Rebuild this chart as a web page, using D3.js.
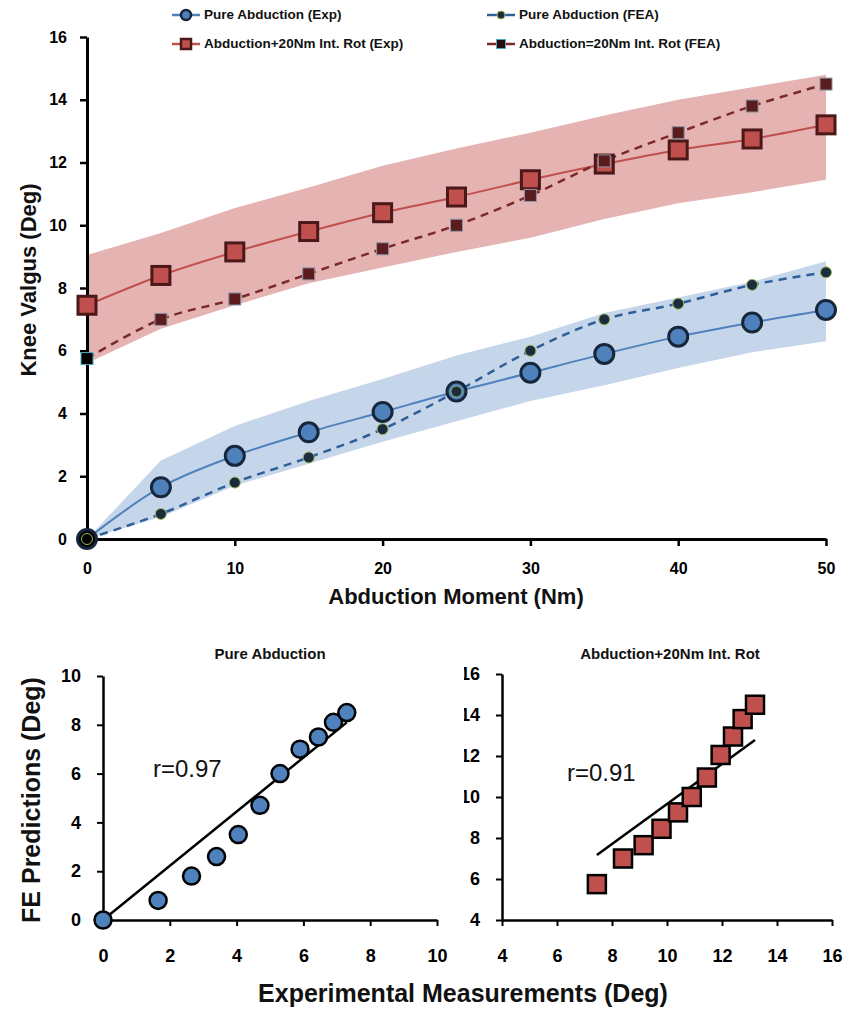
<!DOCTYPE html>
<html>
<head>
<meta charset="utf-8">
<script src="https://cdn.jsdelivr.net/npm/d3@7"></script>
<style>
  body { margin: 0; background: #fff; }
  text { font-family: "Liberation Sans", Arial, sans-serif; }
</style>
</head>
<body>
<script>
// abduction moment (Nm)
const moment = [0, 5, 10, 15, 20, 25, 30, 35, 40, 45, 50];

// knee valgus (deg)
const pureExp = [0, 1.65, 2.65, 3.4, 4.05, 4.7, 5.3, 5.9, 6.45, 6.9, 7.3];
const pureFea = [0, 0.8, 1.8, 2.6, 3.5, 4.7, 6.0, 7.0, 7.5, 8.1, 8.5];
const pureHi = [0, 2.5, 3.6, 4.4, 5.1, 5.85, 6.45, 7.2, 7.7, 8.2, 8.85];
const pureLo = [0, 0.7, 1.7, 2.4, 3.1, 3.75, 4.4, 4.9, 5.45, 5.95, 6.3];

const rotExp = [7.45, 8.4, 9.15, 9.8, 10.4, 10.9, 11.45, 11.95, 12.4, 12.75, 13.2];
const rotFea = [5.75, 7.0, 7.65, 8.45, 9.25, 10.0, 10.95, 12.05, 12.95, 13.8, 14.5];
const rotHi = [9.05, 9.75, 10.55, 11.2, 11.9, 12.45, 12.95, 13.5, 14.0, 14.4, 14.8];
const rotLo = [5.6, 6.7, 7.45, 8.15, 8.65, 9.15, 9.6, 10.2, 10.7, 11.05, 11.45];

const topTicksX = [0, 10, 20, 30, 40, 50];
const topTicksY = [0, 2, 4, 6, 8, 10, 12, 14, 16];
const pureTicks = [0, 2, 4, 6, 8, 10];
const rotTicks = [4, 6, 8, 10, 12, 14, 16];

// trend lines
const fitPure = [[0, 0], [7.3, 8.1]];
const fitRot = [[7.45, 7.17], [13.2, 12.78]];

const legendItems = [
  "Pure Abduction (Exp)", "Pure Abduction (FEA)",
  "Abduction+20Nm Int. Rot (Exp)", "Abduction=20Nm Int. Rot (FEA)"
];

const W = 849, H = 1012;
const svg = d3.select("body").append("svg").attr("width", W).attr("height", H);

// colours
const blue = "#4f81bd", blueDark = "#17263b", blueBand = "#c6d6ea", blueDash = "#2f5f98";
const red = "#c0504d", redDark = "#4a1818", redBand = "#e5b3b2", redDash = "#7a2a2a";

function styleAxis(g, w, fs) {
  g.select(".domain").attr("stroke", "#000").attr("stroke-width", w);
  g.selectAll(".tick line").attr("stroke", "#000").attr("stroke-width", w - 0.5);
  g.selectAll(".tick text").attr("fill", "#000").style("font-size", fs + "px")
    .style("font-weight", "bold").style("font-family", '"Liberation Sans", Arial, sans-serif');
}

// ---------- top chart ----------
const x = d3.scaleLinear().domain([0, 50]).range([87, 826]);
const y = d3.scaleLinear().domain([0, 16]).range([539, 37]);

const band = (hi, lo) => d3.area()
  .x((d, i) => x(moment[i])).y0((d, i) => y(lo[i])).y1((d, i) => y(hi[i]))(moment);
const line = (vals) => d3.line().curve(d3.curveCatmullRom.alpha(0.5))
  .x((d, i) => x(moment[i])).y(d => y(d))(vals);

svg.append("path").attr("d", band(rotHi, rotLo)).attr("fill", redBand);
svg.append("path").attr("d", band(pureHi, pureLo)).attr("fill", blueBand);

const gx = svg.append("g").attr("transform", "translate(0,539)")
  .call(d3.axisBottom(x).tickValues(topTicksX).tickSize(7).tickSizeOuter(0).tickPadding(17));
styleAxis(gx, 3, 16);
const gy = svg.append("g").attr("transform", "translate(87,0)")
  .call(d3.axisLeft(y).tickValues(topTicksY).tickSize(7).tickSizeOuter(0).tickPadding(13));
styleAxis(gy, 3, 16);

// lines
svg.append("path").attr("d", line(rotExp)).attr("fill", "none").attr("stroke", red).attr("stroke-width", 2);
svg.append("path").attr("d", line(rotFea)).attr("fill", "none").attr("stroke", redDash)
  .attr("stroke-width", 2.5).attr("stroke-dasharray", "8,6");
svg.append("path").attr("d", line(pureExp)).attr("fill", "none").attr("stroke", blue).attr("stroke-width", 2);
svg.append("path").attr("d", line(pureFea)).attr("fill", "none").attr("stroke", blueDash)
  .attr("stroke-width", 2.5).attr("stroke-dasharray", "8,6");

// markers
svg.append("g").selectAll("rect").data(rotExp).join("rect")
  .attr("x", (d, i) => x(moment[i]) - 9).attr("y", d => y(d) - 9)
  .attr("width", 18).attr("height", 18)
  .attr("fill", red).attr("stroke", redDark).attr("stroke-width", 3);
svg.append("g").selectAll("rect").data(rotFea).join("rect")
  .attr("x", (d, i) => x(moment[i]) - 6).attr("y", d => y(d) - 6)
  .attr("width", 12).attr("height", 12)
  .attr("fill", (d, i) => i === 0 ? "#000" : "#5a1c1c").attr("stroke", (d, i) => i === 0 ? "#4bacc6" : "#8a96aa").attr("stroke-width", 1);
svg.append("g").selectAll("circle").data(pureExp).join("circle")
  .attr("cx", (d, i) => x(moment[i])).attr("cy", d => y(d)).attr("r", 9.5)
  .attr("fill", (d, i) => i === 0 ? "#000" : blue).attr("stroke", blueDark).attr("stroke-width", 3);
svg.append("g").selectAll("circle").data(pureFea).join("circle")
  .attr("cx", (d, i) => x(moment[i])).attr("cy", d => y(d)).attr("r", 5.5)
  .attr("fill", (d, i) => i === 0 ? "#000" : "#1c2b3d").attr("stroke", "#9bbb59").attr("stroke-width", 1);

// axis titles
svg.append("text").attr("x", 456).attr("y", 598).attr("text-anchor", "middle")
  .attr("dominant-baseline", "middle").style("font-size", "22px").style("font-weight", "bold")
  .attr("fill", "#111").text("Abduction Moment (Nm)");
svg.append("text").attr("transform", "translate(30,280) rotate(-90)").attr("text-anchor", "middle")
  .attr("dominant-baseline", "middle").style("font-size", "22px").style("font-weight", "bold")
  .attr("fill", "#111").text("Knee Valgus (Deg)");

// legend
const legPos = [[186, 15], [501, 15], [186, 44], [501, 44]];
const leg = svg.append("g").selectAll("g").data(legendItems).join("g")
  .attr("transform", (d, i) => `translate(${legPos[i][0]},${legPos[i][1]})`);
leg.append("line").attr("x1", -14).attr("x2", 14)
  .attr("stroke", (d, i) => [blue, blueDash, red, redDash][i]).attr("stroke-width", 2.5);
leg.each(function (d, i) {
  const g = d3.select(this);
  if (i === 0) g.append("circle").attr("r", 5).attr("fill", blue).attr("stroke", blueDark).attr("stroke-width", 2.5);
  if (i === 1) g.append("circle").attr("r", 4).attr("fill", "#1c2b3d").attr("stroke", "#9bbb59").attr("stroke-width", 1);
  if (i === 2) g.append("rect").attr("x", -5).attr("y", -5).attr("width", 10).attr("height", 10)
    .attr("fill", red).attr("stroke", redDark).attr("stroke-width", 2.5);
  if (i === 3) g.append("rect").attr("x", -4.5).attr("y", -4.5).attr("width", 9).attr("height", 9)
    .attr("fill", "#2a0c0c").attr("stroke", "#4bacc6").attr("stroke-width", 1);
});
leg.append("text").attr("x", 18).attr("dominant-baseline", "middle")
  .style("font-size", "13.5px").style("font-weight", "bold").attr("fill", "#111").text(d => d);

// ---------- bottom left scatter ----------
const bx1 = d3.scaleLinear().domain([0, 10]).range([103, 437]);
const by1 = d3.scaleLinear().domain([0, 10]).range([920, 676]);
const g1 = svg.append("g");
g1.append("g").attr("transform", "translate(0,920)")
  .call(d3.axisBottom(bx1).tickValues(pureTicks).tickSize(6).tickSizeOuter(0).tickPadding(23))
  .call(g => styleAxis(g, 2.5, 18));
g1.append("g").attr("transform", "translate(103,0)")
  .call(d3.axisLeft(by1).tickValues(pureTicks).tickSize(6).tickSizeOuter(0).tickPadding(16))
  .call(g => styleAxis(g, 2.5, 18));
g1.append("path").attr("d", d3.line().x(d => bx1(d[0])).y(d => by1(d[1]))(fitPure))
  .attr("stroke", "#000").attr("stroke-width", 2.5).attr("fill", "none");
g1.selectAll("circle").data(pureExp).join("circle")
  .attr("cx", d => bx1(d)).attr("cy", (d, i) => by1(pureFea[i])).attr("r", 8.5)
  .attr("fill", blue).attr("stroke", "#000").attr("stroke-width", 2.5);
g1.append("text").attr("x", 270).attr("y", 655).attr("text-anchor", "middle")
  .attr("dominant-baseline", "middle").style("font-size", "15px").style("font-weight", "bold")
  .attr("fill", "#111").text("Pure Abduction");
g1.append("text").attr("x", 153).attr("y", 771).attr("dominant-baseline", "middle")
  .style("font-size", "24px").attr("fill", "#111").text("r=0.97");

// ---------- bottom right scatter ----------
const bx2 = d3.scaleLinear().domain([4, 16]).range([502, 832]);
const by2 = d3.scaleLinear().domain([4, 16]).range([920, 674]);
svg.append("clipPath").attr("id", "rclip").append("rect")
  .attr("x", 464).attr("y", 630).attr("width", 400).attr("height", 340);
const g2 = svg.append("g").attr("clip-path", "url(#rclip)");
g2.append("g").attr("transform", "translate(0,920)")
  .call(d3.axisBottom(bx2).tickValues(rotTicks).tickSize(6).tickSizeOuter(0).tickPadding(23))
  .call(g => styleAxis(g, 2.5, 18));
g2.append("g").attr("transform", "translate(502,0)")
  .call(d3.axisLeft(by2).tickValues(rotTicks).tickSize(6).tickSizeOuter(0).tickPadding(16))
  .call(g => styleAxis(g, 2.5, 18));
g2.append("path").attr("d", d3.line().x(d => bx2(d[0])).y(d => by2(d[1]))(fitRot))
  .attr("stroke", "#000").attr("stroke-width", 2.5).attr("fill", "none");
g2.selectAll("rect.pt").data(rotExp).join("rect").attr("class", "pt")
  .attr("x", d => bx2(d) - 9).attr("y", (d, i) => by2(rotFea[i]) - 9)
  .attr("width", 18).attr("height", 18)
  .attr("fill", red).attr("stroke", "#000").attr("stroke-width", 2.5);
g2.append("text").attr("x", 670).attr("y", 655).attr("text-anchor", "middle")
  .attr("dominant-baseline", "middle").style("font-size", "15px").style("font-weight", "bold")
  .attr("fill", "#111").text("Abduction+20Nm Int. Rot");
g2.append("text").attr("x", 567).attr("y", 775).attr("dominant-baseline", "middle")
  .style("font-size", "24px").attr("fill", "#111").text("r=0.91");

// shared axis titles
svg.append("text").attr("x", 463).attr("y", 995).attr("text-anchor", "middle")
  .attr("dominant-baseline", "middle").style("font-size", "25px").style("font-weight", "bold")
  .attr("fill", "#111").text("Experimental Measurements (Deg)");
svg.append("text").attr("transform", "translate(33,800) rotate(-90)").attr("text-anchor", "middle")
  .attr("dominant-baseline", "middle").style("font-size", "25px").style("font-weight", "bold")
  .attr("fill", "#111").text("FE Predictions (Deg)");
</script>
</body>
</html>
